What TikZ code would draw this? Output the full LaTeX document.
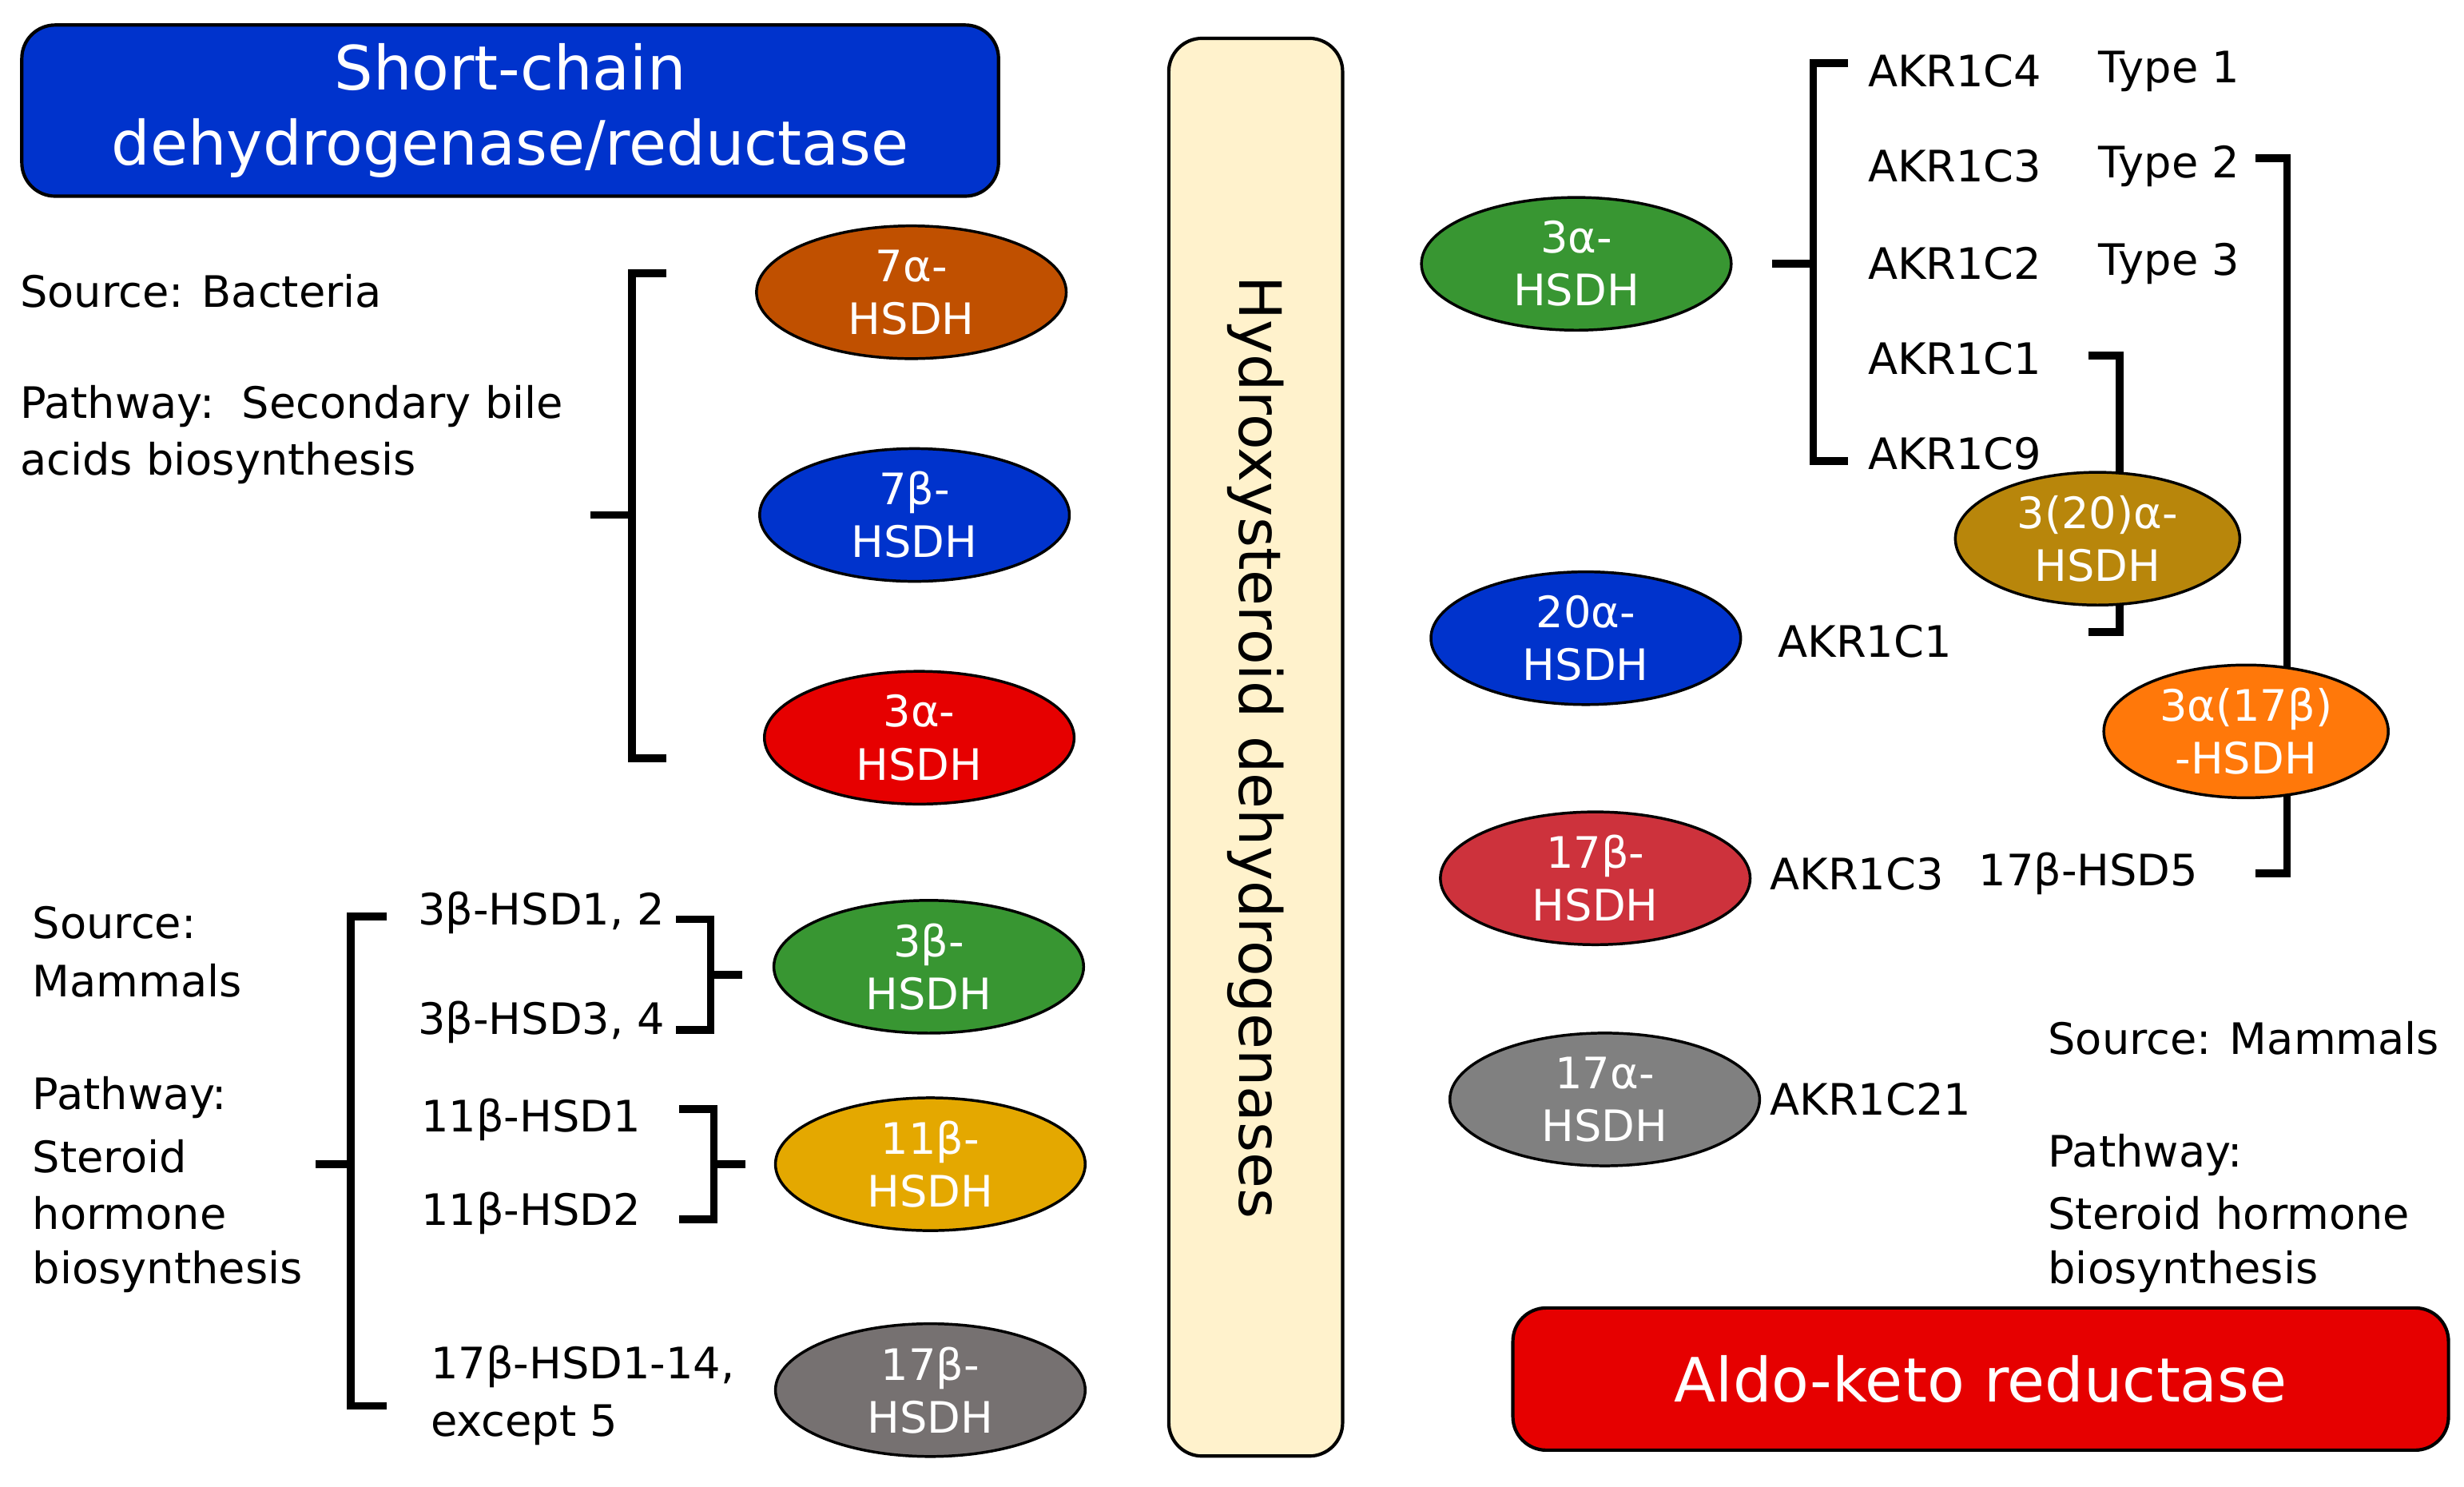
\documentclass[tikz,border=0pt]{standalone}
\usepackage{fontspec}
\setmainfont{DejaVu Sans}
\usetikzlibrary{shapes.geometric}
\definecolor{hdrblue}{RGB}{0,51,204}
\definecolor{cream}{RGB}{255,242,204}
\definecolor{akrred}{RGB}{230,0,0}
\definecolor{brownc}{RGB}{192,80,0}
\definecolor{bluec}{RGB}{0,51,204}
\definecolor{redc}{RGB}{230,0,0}
\definecolor{greenc}{RGB}{56,150,50}
\definecolor{goldc}{RGB}{228,168,0}
\definecolor{greyc}{RGB}{118,113,113}
\definecolor{rosec}{RGB}{205,50,60}
\definecolor{grey2c}{RGB}{128,128,128}
\definecolor{darkgoldc}{RGB}{184,134,11}
\definecolor{orangec}{RGB}{255,120,10}
\begin{document}
\begin{tikzpicture}[x=0.01cm,y=-0.01cm]

  %Styles for picture
  \tikzset
  {
  enzyme/.style={ellipse, draw=black, line width=0.5pt, minimum width=1.96cm, minimum height=0.84cm, inner sep=0pt, text=white, align=center, font=\fontsize{7.8}{9.5}\selectfont},
  box/.style={draw=black, line width=0.6pt, rounded corners=6pt, text=white, align=center},
  lbl/.style={anchor=west, inner sep=0pt, font=\fontsize{7.8}{9.5}\selectfont},
  brk/.style={line width=1.4pt},
  }

  \useasboundingbox (0,0) rectangle (1560,941);

  %Boxes
  \node[box, fill=hdrblue, minimum width=6.18cm, minimum height=0.91cm, font=\fontsize{11}{13.5}\selectfont] (sdr) at (323,70) {Short-chain\\dehydrogenase/reductase};
  \node[box, fill=cream, minimum width=1.1cm, minimum height=8.97cm] (hsd) at (795,473) {};
  \node[rotate=-90, font=\fontsize{10.5}{12}\selectfont] (hsdt) at (hsd) {Hydroxysteroid dehydrogenases};
  \node[box, fill=akrred, minimum width=5.92cm, minimum height=0.9cm, font=\fontsize{11}{13.5}\selectfont] (akr) at (1254,873) {Aldo-keto reductase};

  %Left texts
  \node[lbl] (srcb) at (12,184) {Source: Bacteria};
  \node[lbl] (pwb) at (12,257) {Pathway:~~Secondary bile};
  \node[lbl] (pwb2) at (12,293) {acids biosynthesis};
  \node[lbl] (srcm) at (20,584) {Source:};
  \node[lbl] (srcm2) at (20,621) {Mammals};
  \node[lbl] (pwm) at (20,695) {Pathway:};
  \node[lbl] (pwm2) at (20,732) {Steroid};
  \node[lbl] (pwm3) at (20,768) {hormone};
  \node[lbl] (pwm4) at (20,805) {biosynthesis};
  \node[lbl] (b1) at (264,578) {3β-HSD1, 2};
  \node[lbl] (b3) at (264,647) {3β-HSD3, 4};
  \node[lbl] (e1) at (266,709) {11β-HSD1};
  \node[lbl] (e2) at (266,768) {11β-HSD2};
  \node[lbl] (s1) at (272,865) {17β-HSD1-14,};
  \node[lbl] (s2) at (272,902) {except 5};

  %Right texts
  \node[lbl] (c4) at (1182,45) {AKR1C4};
  \node[lbl] (t1) at (1328,45) {Type 1};
  \node[lbl] (c3) at (1182,105) {AKR1C3};
  \node[lbl] (t2) at (1328,105) {Type 2};
  \node[lbl] (c2) at (1182,167) {AKR1C2};
  \node[lbl] (t3) at (1328,167) {Type 3};
  \node[lbl] (c1) at (1182,227) {AKR1C1};
  \node[lbl] (c9) at (1182,287) {AKR1C9};
  \node[lbl] (c1b) at (1125,406) {AKR1C1};
  \node[lbl] (c3b) at (1120,553) {AKR1C3};
  \node[lbl] (h5) at (1252,553) {17β-HSD5};
  \node[lbl] (c21) at (1120,696) {AKR1C21};
  \node[lbl] (srcr) at (1296,657) {Source: Mammals};
  \node[lbl] (pwr) at (1296,731) {Pathway:};
  \node[lbl] (pwr2) at (1296,768) {Steroid hormone};
  \node[lbl] (pwr3) at (1296,805) {biosynthesis};

  %Brackets
  \draw[brk] (422,173) -- (400,173) -- (400,480) -- (422,480);
  \draw[brk] (400,326) -- (374,326);
  \draw[brk] (245,580) -- (222,580) -- (222,890) -- (245,890);
  \draw[brk] (222,737) -- (200,737);
  \draw[brk] (428,582) -- (450,582) -- (450,652) -- (428,652);
  \draw[brk] (450,617) -- (470,617);
  \draw[brk] (430,702) -- (452,702) -- (452,772) -- (430,772);
  \draw[brk] (452,737) -- (472,737);
  \draw[brk] (1170,40) -- (1148,40) -- (1148,292) -- (1170,292);
  \draw[brk] (1148,167) -- (1122,167);
  \draw[brk] (1322,225) -- (1342,225) -- (1342,400) -- (1322,400);
  \draw[brk] (1428,100) -- (1448,100) -- (1448,553) -- (1428,553);

  %Enzymes
  \node[enzyme, fill=brownc] (a7) at (577,185) {7α-\\HSDH};
  \node[enzyme, fill=bluec] (b7) at (579,326) {7β-\\HSDH};
  \node[enzyme, fill=redc] (a3) at (582,467) {3α-\\HSDH};
  \node[enzyme, fill=greenc] (b3h) at (588,612) {3β-\\HSDH};
  \node[enzyme, fill=goldc] (b11) at (589,737) {11β-\\HSDH};
  \node[enzyme, fill=greyc] (b17) at (589,880) {17β-\\HSDH};
  \node[enzyme, fill=greenc] (ra3) at (998,167) {3α-\\HSDH};
  \node[enzyme, fill=bluec] (ra20) at (1004,404) {20α-\\HSDH};
  \node[enzyme, fill=rosec] (rb17) at (1010,556) {17β-\\HSDH};
  \node[enzyme, fill=grey2c] (ra17) at (1016,696) {17α-\\HSDH};
  \node[enzyme, fill=darkgoldc, minimum width=1.8cm] (ra320) at (1328,341) {3(20)α-\\HSDH};
  \node[enzyme, fill=orangec, minimum width=1.8cm] (ra317) at (1422,463) {3α(17β)\\-HSDH};
\end{tikzpicture}
\end{document}
